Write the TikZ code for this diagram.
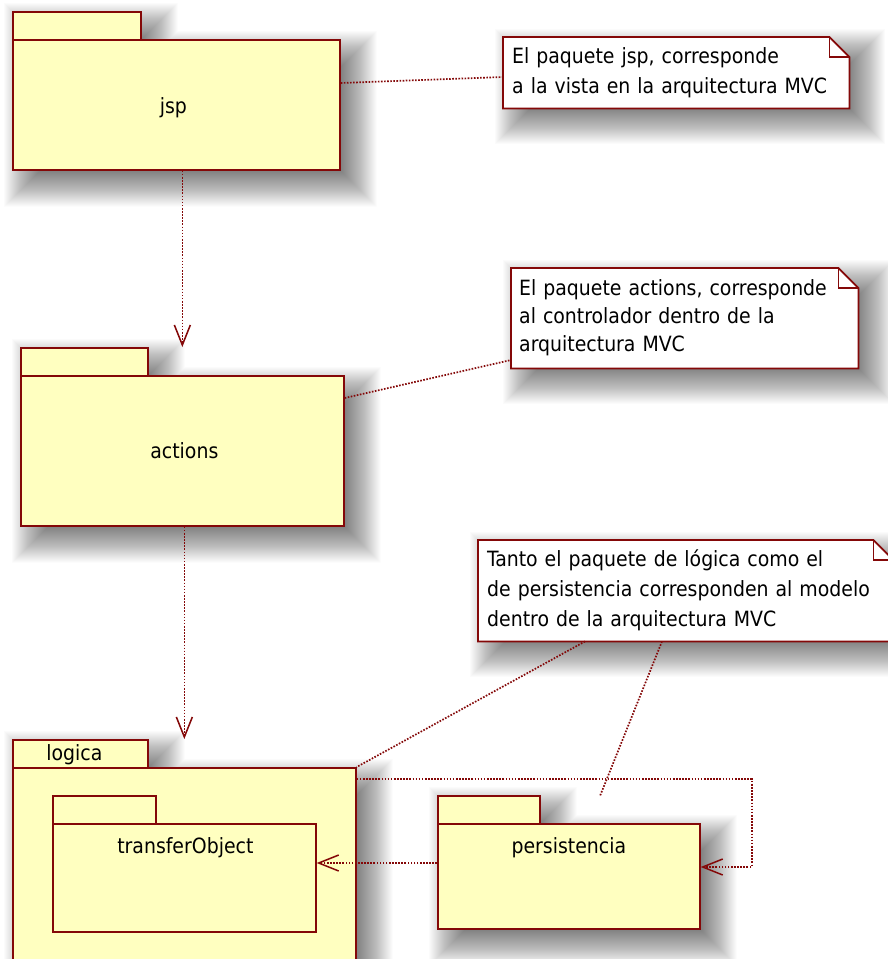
\documentclass[tikz,border=0pt]{standalone}
\usepackage{fontspec}
\setmainfont{DejaVu Sans Condensed}
\usetikzlibrary{arrows.meta,calc}

\definecolor{umlred}{RGB}{132,8,8}
\definecolor{pkgfill}{RGB}{255,255,192}

\pgfdeclarelayer{paper}
\pgfdeclarelayer{shade}
\pgfdeclarelayer{sheet}
\pgfsetlayers{paper,shade,sheet,main}

\tikzset{
  pkgpart/.style={draw=umlred, fill=pkgfill, line width=1.7pt, rectangle,
    inner sep=0pt, anchor=north west},
  notebox/.style={rectangle, anchor=north west, align=left, inner ysep=0pt},
  noteline/.style={draw=umlred, fill=white, line width=1.7pt, line join=miter},
  shadelayer/.style={fill=black, fill opacity=0.0175},
  dotline/.style={umlred, line width=1.7pt, dash pattern=on 1.6pt off 1.5pt},
  dep/.style={dotline, -{Straight Barb[length=20pt, width=16pt, line width=1.5pt]}},
}

% soft drop shadow: stacked translucent boxes, offset 14 right/down,
% each grown by \g from -16 to 22 around the offset outline
\newcommand\pkgshade[2]{%
  \foreach \g in {-16,...,22}{
    \fill[shadelayer]
      ($(#1.north west)+(14-\g,14-\g)$) rectangle ($(#1.south east)+(14+\g,14+\g)$)
      ($(#2.north west)+(14-\g,14-\g)$) rectangle ($(#2.south east)+(14+\g,14+\g)$);
  }}
\newcommand\boxshade[1]{%
  \foreach \g in {-16,...,22}{
    \fill[shadelayer]
      ($(#1.north west)+(14-\g,14-\g)$) rectangle ($(#1.south east)+(14+\g,14+\g)$);
  }}

\begin{document}
\begin{tikzpicture}[x=1pt, y=-1pt, font=\fontsize{21}{30}\selectfont]
\useasboundingbox (0,0) rectangle (888,959);
\clip (0,0) rectangle (888,959);

% packages
\node[pkgpart, minimum width=128pt, minimum height=28pt] (jsptab) at (12,11) {};
\node[pkgpart, minimum width=327pt, minimum height=130pt] (jsp) at (12,39) {};
\node at ($(jsp.center)+(-3,3)$) {jsp};

\node[pkgpart, minimum width=127pt, minimum height=28pt] (actionstab) at (20,347) {};
\node[pkgpart, minimum width=323pt, minimum height=150pt] (actions) at (20,375) {};
\node at ($(actions.center)+(2,0)$) {actions};

\node[pkgpart, minimum width=343pt, minimum height=230pt] (logica) at (12,767) {};
\node[pkgpart, minimum width=135pt, minimum height=28pt] (logicatab) at (12,739) {};
\node at ($(logicatab.center)+(-6,1)$) {logica};

\node[pkgpart, minimum width=103pt, minimum height=28pt] (totab) at (52,795) {};
\node[pkgpart, minimum width=263pt, minimum height=108pt] (to) at (52,823) {};
\node at ($(to.north)+(1,25)$) {transferObject};

\node[pkgpart, minimum width=102pt, minimum height=28pt] (perstab) at (437,795) {};
\node[pkgpart, minimum width=262pt, minimum height=105pt] (pers) at (437,823) {};
\node at ($(pers.north)+(0,25)$) {persistencia};

% notes (text nodes; outlines drawn on the sheet layer)
\node[notebox, inner xsep=9pt, text width=328pt, minimum height=71pt] (n1) at (503,37)
  {El paquete jsp, corresponde\\a la vista en la arquitectura MVC};
\node[notebox, inner xsep=8pt, text width=331pt, minimum height=100pt,
  font=\fontsize{21}{28}\selectfont] (n2) at (511,268)
  {El paquete actions, corresponde\\al controlador dentro de la\\arquitectura MVC};
\node[notebox, inner xsep=9pt, text width=397pt, minimum height=101pt] (n3) at (478,540)
  {Tanto el paquete de lógica como el\\de persistencia corresponden al modelo\\dentro de la arquitectura MVC};

\begin{pgfonlayer}{paper}
  \fill[white] (0,0) rectangle (888,959);
\end{pgfonlayer}

\begin{pgfonlayer}{shade}
  \pkgshade{jsptab}{jsp}
  \pkgshade{actionstab}{actions}
  \pkgshade{logicatab}{logica}
  \pkgshade{perstab}{pers}
  \boxshade{n1}
  \boxshade{n2}
  \boxshade{n3}
\end{pgfonlayer}

\begin{pgfonlayer}{sheet}
  \foreach \n in {n1,n2,n3}{
    \draw[noteline] (\n.north west) -- ($(\n.north east)+(-20,0)$)
      -- ($(\n.north east)+(0,20)$) -- (\n.south east) -- (\n.south west) -- cycle;
    \draw[noteline, fill=none] ($(\n.north east)+(-20,0)$) |- ($(\n.north east)+(0,20)$);
  }
\end{pgfonlayer}

% note links
\draw[dotline] ($(jsp.north east)+(0,44)$) -- ($(n1.north west)+(0,40)$);
\draw[dotline] ($(actions.north east)+(0,23)$) -- ($(n2.north west)+(0,92)$);
\coordinate (persmark) at (600,796);
\draw[dotline] ($(n3.south west)+(107,0)$) -- (logica.north east);
\draw[dotline] ($(n3.south west)+(184,0)$) -- (persmark);

% dependencies
\draw[dep] (jsp.south -| actions.north) -- (actions.north |- actionstab.north);
\draw[dep] (actions.south -| logica.north) -- (logica.north |- logicatab.north);
\draw[dep] ($(pers.north west)+(0,40)$) -- ($(to.north east)+(0,40)$);
\draw[dep] ($(logica.north east)+(0,12)$) -- ++(395,0) |- ($(pers.north east)+(0,44)$);
\end{tikzpicture}
\end{document}
